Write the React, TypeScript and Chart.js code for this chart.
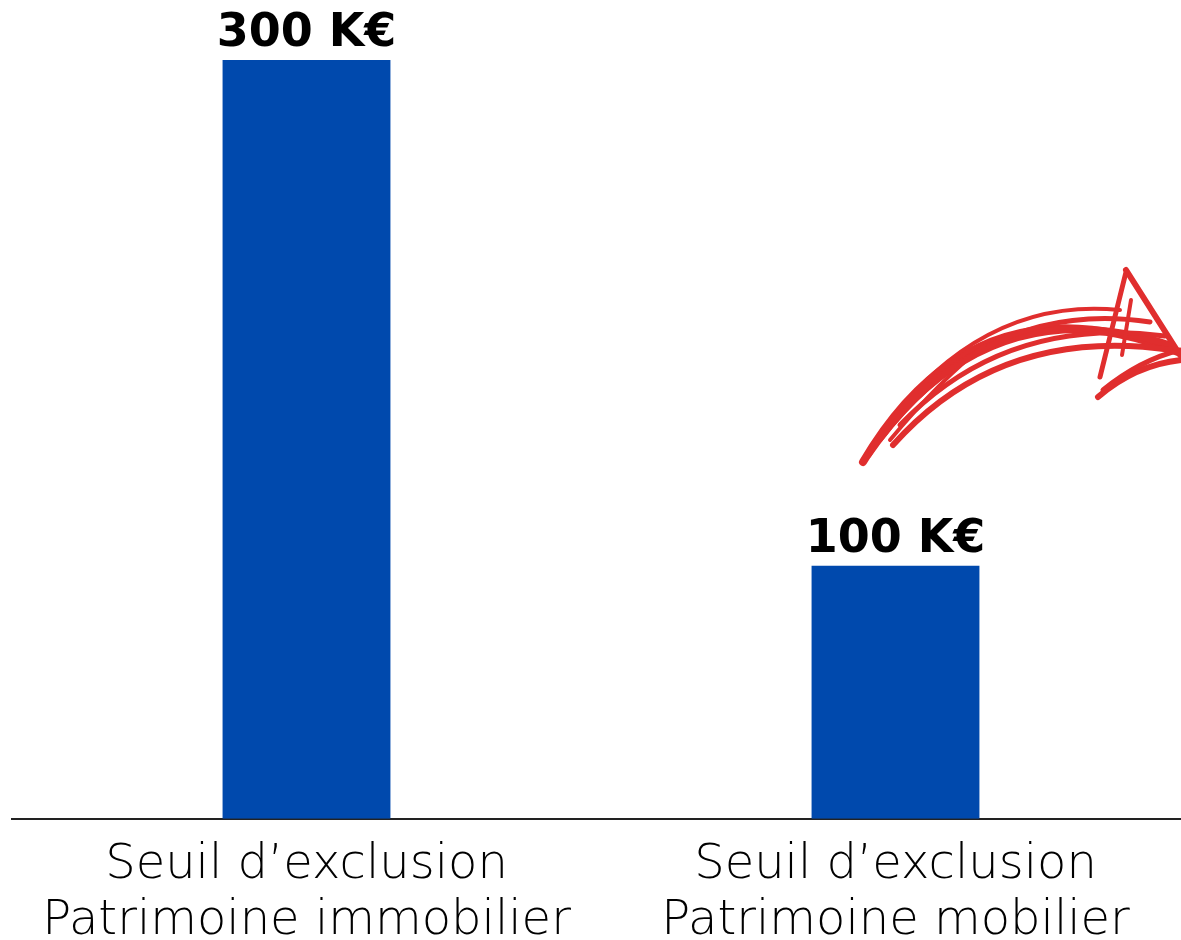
import React, { useEffect, useRef } from "react";
import { Chart, registerables } from "chart.js";

Chart.register(...registerables);

const categories: string[][] = [
  ["Seuil d’exclusion", "Patrimoine immobilier"],
  ["Seuil d’exclusion", "Patrimoine mobilier"],
];
const values: number[] = [300, 100];
const valueLabels: string[] = ["300 K€", "100 K€"];

const BAR_COLOR = "#0049AD";
const ARROW_COLOR = "#E02E2E";
const LABEL_FONT = "'DejaVu Sans', sans-serif";

// decorative hand-drawn arrow strokes (canvas coordinates)
const arrowStrokes: { w: number; pts: number[] }[] = [
  { w: 8, pts: [863, 462, 975, 272, 1178, 352] },
  { w: 7, pts: [868, 455, 985, 285, 1170, 345] },
  { w: 6, pts: [893, 445, 1000, 325, 1172, 350] },
  { w: 5, pts: [880, 440, 990, 298, 1150, 322] },
  { w: 5, pts: [900, 425, 1005, 315, 1165, 336] },
  { w: 4, pts: [872, 445, 975, 295, 1120, 310] },
  { w: 4, pts: [890, 440, 940, 380, 985, 345] },
];
const arrowLines: { w: number; pts: number[] }[] = [
  { w: 6, pts: [1126, 270, 1180, 355] },
  { w: 5, pts: [1126, 272, 1100, 377] },
  { w: 4, pts: [1131, 300, 1122, 355] },
];
const arrowHeadCurves: { w: number; pts: number[] }[] = [
  { w: 6, pts: [1098, 397, 1135, 365, 1181, 360] },
  { w: 5, pts: [1103, 390, 1140, 360, 1180, 350] },
];

const decorPlugin = {
  id: "decor",
  afterDatasetsDraw(chart: any) {
    const ctx = chart.ctx;
    const meta = chart.getDatasetMeta(0);
    ctx.save();
    ctx.fillStyle = "#000";
    ctx.font = `bold 46px ${LABEL_FONT}`;
    ctx.textAlign = "center";
    ctx.textBaseline = "alphabetic";
    meta.data.forEach((bar: any, i: number) => {
      ctx.fillText(valueLabels[i], bar.x, bar.y - 14);
    });
    ctx.strokeStyle = ARROW_COLOR;
    ctx.lineCap = "round";
    ctx.lineJoin = "round";
    [...arrowStrokes, ...arrowHeadCurves].forEach((s) => {
      ctx.lineWidth = s.w;
      ctx.beginPath();
      ctx.moveTo(s.pts[0], s.pts[1]);
      ctx.quadraticCurveTo(s.pts[2], s.pts[3], s.pts[4], s.pts[5]);
      ctx.stroke();
    });
    arrowLines.forEach((s) => {
      ctx.lineWidth = s.w;
      ctx.beginPath();
      ctx.moveTo(s.pts[0], s.pts[1]);
      ctx.lineTo(s.pts[2], s.pts[3]);
      ctx.stroke();
    });
    ctx.restore();
  },
};

export default function App() {
  const ref = useRef<HTMLCanvasElement | null>(null);
  useEffect(() => {
    if (!ref.current) return;
    const chart = new Chart(ref.current, {
      type: "bar",
      data: {
        labels: categories,
        datasets: [
          {
            data: values,
            backgroundColor: BAR_COLOR,
            borderWidth: 0,
            categoryPercentage: 1,
            barPercentage: 0.285,
          },
        ],
      },
      options: {
        animation: false,
        responsive: false,
        maintainAspectRatio: false,
        layout: { padding: { left: 12, right: 0, top: 60, bottom: 0 } },
        plugins: { legend: { display: false }, tooltip: { enabled: false } },
        scales: {
          x: {
            grid: { display: false, drawTicks: false },
            border: { display: true, color: "#222", width: 2 },
            ticks: {
              color: "#000",
              padding: 19,
              font: { family: LABEL_FONT, size: 48, weight: 200, lineHeight: 1.17 },
              maxRotation: 0,
              autoSkip: false,
            },
          },
          y: {
            display: false,
            min: 0,
            max: 300,
          },
        },
      },
      plugins: [decorPlugin],
    });
    return () => chart.destroy();
  }, []);
  return (
    <div
      style={{
        position: "fixed",
        left: 0,
        top: 0,
        width: 1181,
        height: 940,
        overflow: "hidden",
        background: "#fff",
      }}
    >
      <canvas ref={ref} width={1190} height={969} style={{ display: "block" }} />
    </div>
  );
}
